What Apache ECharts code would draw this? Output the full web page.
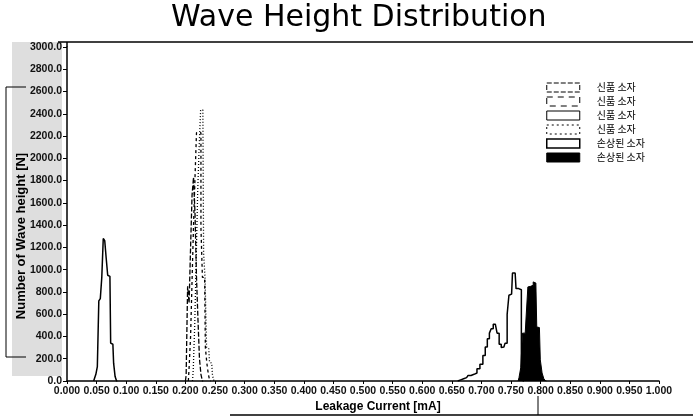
<!DOCTYPE html>
<html>
<head>
<meta charset="utf-8">
<script src="https://cdn.jsdelivr.net/npm/echarts@6/dist/echarts.min.js"></script>
<style>
  html, body { margin: 0; padding: 0; background: #fff; }
  #chart { width: 693px; height: 418px; }
</style>
</head>
<body>
<div id="chart"></div>
<script>
// histogram bins: [leakage current (mA), count]
let newDevice1 = [[0.200, 0], [0.2025, 50], [0.205, 850], [0.2075, 700], [0.210, 1200], [0.2125, 1670],
  [0.215, 1830], [0.2175, 1500], [0.220, 930], [0.2225, 550], [0.225, 200], [0.2275, 60], [0.230, 0]]
let newDevice2 = [[0.205, 0], [0.2075, 120], [0.210, 400], [0.2125, 900], [0.215, 1400], [0.2175, 1830],
  [0.220, 2230], [0.2225, 2230], [0.225, 2230], [0.2275, 1380], [0.230, 930], [0.2325, 930],
  [0.235, 300], [0.2375, 160], [0.240, 60], [0.2425, 0]]
let newDevice3 = [[0.045, 0], [0.0475, 20], [0.050, 60], [0.0525, 130], [0.055, 720], [0.0575, 740],
  [0.060, 930], [0.0625, 1280], [0.065, 1260], [0.0675, 1100], [0.070, 950], [0.0725, 940],
  [0.075, 340], [0.0775, 330], [0.080, 160], [0.0825, 40], [0.085, 0]]
let newDevice4 = [[0.212, 0], [0.2145, 100], [0.217, 500], [0.2195, 1100], [0.222, 1700], [0.2245, 2100],
  [0.227, 2434], [0.2295, 2434], [0.232, 1150], [0.2345, 920], [0.237, 300], [0.2395, 290],
  [0.242, 170], [0.2445, 160], [0.247, 50], [0.2495, 0]]
let damagedOutline = [[0.660, 0], [0.665, 10], [0.670, 20], [0.675, 30], [0.680, 50], [0.685, 60],
  [0.690, 72], [0.695, 110], [0.700, 150], [0.705, 230], [0.708, 305], [0.712, 380], [0.715, 430],
  [0.718, 470], [0.722, 510], [0.725, 500], [0.728, 430], [0.732, 330], [0.735, 300], [0.738, 305],
  [0.742, 340], [0.745, 600], [0.748, 770], [0.751, 780], [0.754, 970], [0.757, 970], [0.760, 830],
  [0.763, 830], [0.766, 820], [0.769, 40], [0.772, 0]]
let damagedFilled = [[0.762, 0], [0.765, 30], [0.768, 120], [0.771, 430], [0.774, 430], [0.777, 575],
  [0.780, 845], [0.783, 850], [0.786, 860], [0.789, 890], [0.792, 880], [0.795, 485], [0.798, 480],
  [0.801, 190], [0.804, 72], [0.807, 20], [0.810, 0]]

let legendNames = ['신품 소자 1', '신품 소자 2', '신품 소자 3', '신품 소자 4', '손상된 소자 1', '손상된 소자 2']

let titleText = 'Wave Height Distribution'
let xName = 'Leakage Current [mA]'
let yName = 'Number of Wave height [N]'

let narrow = '"Liberation Sans Narrow", "Liberation Sans", Arial, sans-serif'

function histLine (name, data, dash, width) {
  return {
    name: name,
    type: 'line',
    step: 'middle',
    symbol: 'none',
    data: data,
    lineStyle: { color: '#000', width: width, type: dash },
    itemStyle: { color: '#000' },
    z: 3
  }
}

let series = [
  histLine(legendNames[0], newDevice1, [5, 2], 1.3),
  histLine(legendNames[1], newDevice2, [3, 3], 1.3),
  histLine(legendNames[2], newDevice3, 'solid', 1.5),
  histLine(legendNames[3], newDevice4, [1, 2], 1.3),
  histLine(legendNames[4], damagedOutline, 'solid', 1.5),
  {
    name: legendNames[5],
    type: 'line',
    step: 'middle',
    symbol: 'none',
    data: damagedFilled,
    lineStyle: { color: '#000', width: 1 },
    itemStyle: { color: '#000' },
    areaStyle: { color: '#000', opacity: 1 },
    z: 2
  }
]

let legendStyles = [
  { color: '#fff', borderColor: '#000', borderWidth: 1, borderType: [5, 2] },
  { color: '#fff', borderColor: '#000', borderWidth: 1, borderType: [6, 5] },
  { color: '#fff', borderColor: '#000', borderWidth: 1, borderType: 'solid' },
  { color: '#fff', borderColor: '#000', borderWidth: 1, borderType: [2, 3] },
  { color: '#fff', borderColor: '#000', borderWidth: 1.5, borderType: 'solid' },
  { color: '#000', borderColor: '#000', borderWidth: 1, borderType: 'solid' }
]

let option = {
  animation: false,
  backgroundColor: '#fff',
  title: {
    text: titleText,
    left: 166,
    top: -2,
    textStyle: { fontFamily: '"DejaVu Sans", sans-serif', fontSize: 30, fontWeight: 'normal', color: '#000' }
  },
  grid: { left: 67, right: 34, top: 47, bottom: 37 },
  legend: {
    orient: 'vertical',
    left: 541,
    top: 77,
    itemWidth: 33,
    itemHeight: 9,
    itemGap: 3,
    icon: 'rect',
    selectedMode: false,
    data: legendNames.map((n, i) => ({ name: n, itemStyle: legendStyles[i] })),
    formatter: (name) => name.replace(/ \d$/, ''),
    textStyle: {
      fontFamily: '"Noto Sans CJK KR", sans-serif',
      fontSize: 10,
      color: '#000',
      lineHeight: 11,
      padding: [0, 0, 0, 12]
    }
  },
  xAxis: {
    type: 'value',
    min: 0,
    max: 1,
    interval: 0.05,
    axisLine: { lineStyle: { color: '#000', width: 1.5 } },
    axisTick: { show: true, length: 3, lineStyle: { color: '#000' } },
    splitLine: { show: false },
    axisLabel: {
      formatter: (v) => v.toFixed(3),
      fontFamily: narrow,
      fontWeight: 'bold',
      fontSize: 10.5,
      color: '#111',
      margin: 5
    }
  },
  yAxis: {
    type: 'value',
    min: 0,
    max: 3000,
    interval: 200,
    axisLine: { show: true, lineStyle: { color: '#000', width: 1.5 } },
    axisTick: { show: true, length: 4, lineStyle: { color: '#000' } },
    splitLine: { show: false },
    axisLabel: {
      formatter: (v) => v.toFixed(1),
      fontFamily: narrow,
      fontWeight: 'bold',
      fontSize: 10.5,
      color: '#111',
      margin: 5
    }
  },
  graphic: [
    // greyish scan band behind the y labels
    { type: 'rect', z: -10, shape: { x: 12, y: 42, width: 50, height: 334 }, style: { fill: '#dedede' } },
    // frame lines from the scan
    { type: 'line', shape: { x1: 58, y1: 42, x2: 693, y2: 42 }, style: { stroke: '#000', lineWidth: 1.5 } },
    { type: 'line', shape: { x1: 67, y1: 42, x2: 67, y2: 47 }, style: { stroke: '#000', lineWidth: 1.5 } },
    { type: 'polyline', shape: { points: [[26, 87], [6, 87], [6, 357], [26, 357]] }, style: { stroke: '#000', fill: null, lineWidth: 1 } },
    { type: 'polyline', shape: { points: [[230, 415], [693, 415]] }, style: { stroke: '#000', fill: null, lineWidth: 1.5 } },
    { type: 'line', shape: { x1: 538, y1: 396, x2: 538, y2: 415 }, style: { stroke: '#000', lineWidth: 1 } },
    {
      type: 'text',
      x: 378,
      y: 407,
      style: { text: xName, textAlign: 'center', textVerticalAlign: 'middle', fontFamily: '"Liberation Sans", Arial, sans-serif', fontWeight: 'bold', fontSize: 12, fill: '#000' }
    },
    {
      type: 'text',
      x: 21,
      y: 236,
      rotation: Math.PI / 2,
      style: { text: yName, textAlign: 'center', textVerticalAlign: 'middle', fontFamily: '"Liberation Sans", Arial, sans-serif', fontWeight: 'bold', fontSize: 13, fill: '#000' }
    }
  ],
  series: series
}

let myChart = echarts.init(document.getElementById('chart'))
myChart.setOption(option)
</script>
</body>
</html>
